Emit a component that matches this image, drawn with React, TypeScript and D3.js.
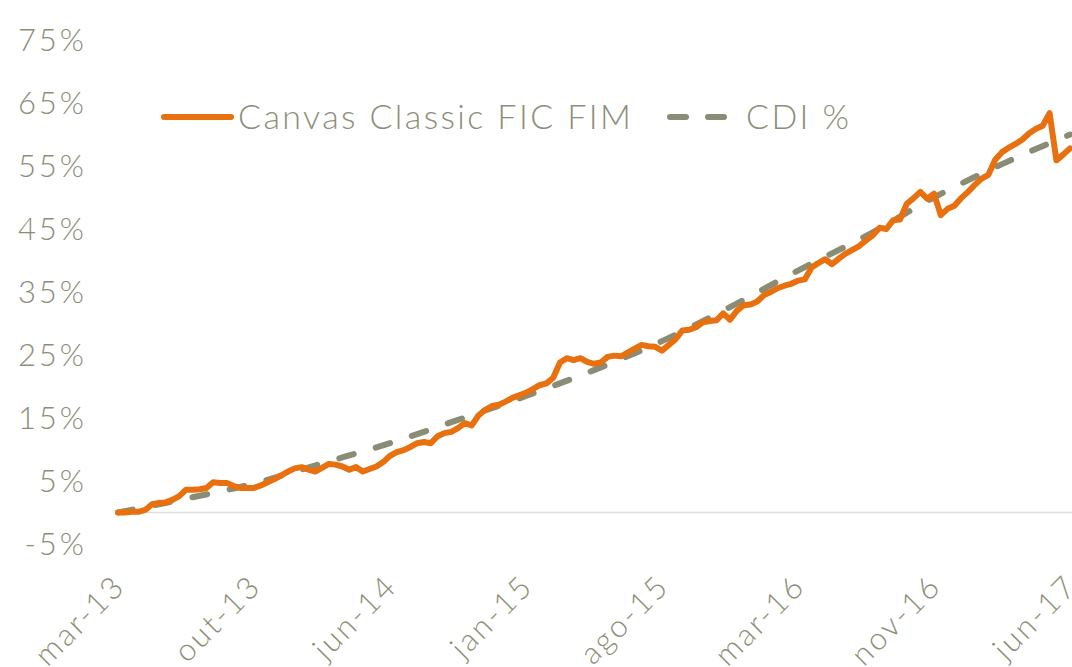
import React from 'react';
import * as d3 from 'd3';

// rótulos do eixo x (eixo de categorias, espaçamento uniforme)
const xLabels = ['mar-13', 'out-13', 'jun-14', 'jan-15', 'ago-15', 'mar-16', 'nov-16', 'jun-17'];
const yTicks = [-5, 5, 15, 25, 35, 45, 55, 65, 75];

// Canvas Classic FIC FIM, retorno acumulado (%)
const fund = [
  0, 0, 0.1, 0.1, 0.4, 1.3, 1.5, 1.6, 2.0, 2.6,
  3.6, 3.6, 3.7, 3.9, 4.8, 4.7, 4.7, 4.2, 3.9, 3.9,
  3.9, 4.3, 4.8, 5.3, 5.9, 6.5, 7.0, 7.2, 6.8, 6.5,
  7.1, 7.7, 7.6, 7.3, 6.8, 7.2, 6.5, 6.9, 7.3, 8.0,
  9.0, 9.6, 9.9, 10.4, 11.0, 11.2, 11.0, 12.1, 12.6, 12.8,
  13.4, 14.2, 13.8, 15.4, 16.3, 16.9, 17.1, 17.6, 18.2, 18.6,
  19.0, 19.6, 20.2, 20.5, 21.4, 23.8, 24.5, 24.2, 24.5, 23.9,
  23.6, 23.8, 24.7, 24.9, 24.8, 25.4, 26.0, 26.6, 26.4, 26.3,
  25.7, 26.6, 27.5, 28.9, 29.0, 29.4, 30.2, 30.4, 30.5, 31.6,
  30.6, 32.0, 32.9, 33.0, 33.5, 34.5, 35.0, 35.6, 36.0, 36.3,
  36.8, 37.0, 38.9, 39.6, 40.2, 39.4, 40.3, 41.1, 41.7, 42.3,
  43.2, 44.0, 45.2, 45.0, 46.4, 46.5, 49.0, 49.9, 50.9, 49.8,
  50.6, 47.2, 48.2, 48.7, 49.9, 50.9, 52.0, 53.0, 53.6, 56.0,
  57.2, 57.9, 58.5, 59.2, 60.2, 60.9, 61.4, 63.4, 55.9, 56.8,
  57.8,
];

// CDI % acumulado, lido a cada 10 observações
const cdiIndex = [0, 10, 20, 30, 40, 50, 60, 70, 80, 90, 100, 110, 120, 130, 140];
const cdi = [0, 2.2, 4.6, 7.8, 11.0, 14.7, 18.5, 22.6, 27.2, 32.6, 38.4, 43.9, 50.0, 55.3, 60.0];

const ORANGE = '#E8700E';
const GREY = '#8A8C75';
const TEXT = '#8C8E78';
const FONT = 'Lato, "Open Sans", sans-serif';

export default function App() {
  const width = 1072;
  const height = 667;

  const x = d3.scaleLinear().domain([0, fund.length - 1]).range([118, 1070]);
  const y = d3.scaleLinear().domain([-5, 75]).range([544, 40]);
  const step = (fund.length - 1) / (xLabels.length - 1);

  const fundLine = d3
    .line<number>()
    .x((_d, i) => x(i))
    .y(d => y(d));

  const cdiLine = d3
    .line<number>()
    .x((_d, i) => x(cdiIndex[i]))
    .y(d => y(d))
    .curve(d3.curveMonotoneX);

  return (
    <svg
      width={width}
      height={height}
      style={{ position: 'absolute', left: 0, top: 0, background: '#fff' }}
      fontFamily={FONT}
    >
      {/* linha do zero */}
      <line x1={x(0)} x2={width} y1={y(0)} y2={y(0)} stroke="#DDDDDD" strokeWidth={1.5} />

      {/* eixo y */}
      {yTicks.map(t => (
        <text
          key={t}
          x={87}
          y={y(t)}
          dy="0.36em"
          textAnchor="end"
          fontSize={31}
          fontWeight={300}
          letterSpacing={3}
          fill={TEXT}
        >
          {`${t}%`}
        </text>
      ))}

      {/* eixo x */}
      {xLabels.map((lab, k) => (
        <text
          key={lab}
          transform={`translate(${x(k * step) + 9},${588}) rotate(-45)`}
          textAnchor="end"
          fontSize={31}
          fontWeight={300}
          letterSpacing={2.5}
          fill={TEXT}
        >
          {lab}
        </text>
      ))}

      <path
        d={cdiLine(cdi) || ''}
        fill="none"
        stroke={GREY}
        strokeWidth={6}
        strokeLinecap="round"
        strokeDasharray="15 23"
      />
      <path
        d={fundLine(fund) || ''}
        fill="none"
        stroke={ORANGE}
        strokeWidth={6}
        strokeLinejoin="round"
        strokeLinecap="round"
      />

      {/* legenda */}
      <g fontSize={34} fontWeight={300} fill={TEXT} letterSpacing={2.4}>
        <line x1={164} x2={231} y1={117} y2={117} stroke={ORANGE} strokeWidth={6} strokeLinecap="round" />
        <text x={238} y={129}>Canvas Classic FIC FIM</text>
        <line
          x1={670}
          x2={728}
          y1={117}
          y2={117}
          stroke={GREY}
          strokeWidth={6}
          strokeLinecap="round"
          strokeDasharray="16 22"
        />
        <text x={746} y={129}>CDI %</text>
      </g>
    </svg>
  );
}
